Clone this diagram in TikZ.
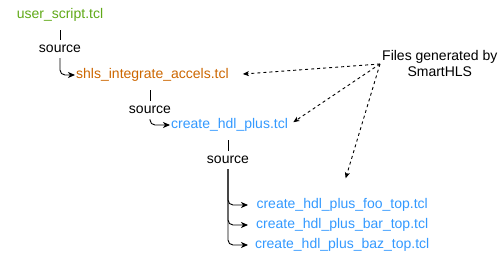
\documentclass[tikz,border=0pt]{standalone}
\usepackage{fontspec}
\setmainfont{Liberation Sans}
\usetikzlibrary{positioning, arrows.meta}

\definecolor{scriptgreen}{HTML}{60A917}
\definecolor{shlsorange}{HTML}{CC6600}
\definecolor{hdlblue}{HTML}{3399FF}

\begin{document}
\begin{tikzpicture}[
    x=1pt, y=-1pt,
    fnt/.style={font=\fontsize{14}{16}\selectfont},
    file/.style={fnt, minimum height=30pt, inner xsep=1pt, inner ysep=0pt},
    srclabel/.style={fnt, minimum height=18pt, inner sep=0pt},
    srcarrow/.style={-{Stealth[length=7pt, width=6pt, inset=2pt]}, line width=0.9pt, rounded corners=5pt},
    genarrow/.style={-{Stealth[length=6pt, width=5pt, inset=1.5pt]}, line width=0.9pt, dash pattern=on 3pt off 3pt}
]
\useasboundingbox (0,0) rectangle (501,261);

% Script files
\node[file, text=scriptgreen] (user) at (60,15) {user\_script.tcl};
\node[file, text=shlsorange, anchor=west] (shls) at (75,75) {shls\_integrate\_accels.tcl};
\node[file, text=hdlblue, anchor=west] (hdl) at (170,125) {create\_hdl\_plus.tcl};
\node[file, text=hdlblue, anchor=west, minimum width=188pt] (foo) at (248,205) {create\_hdl\_plus\_foo\_top.tcl};
\node[file, text=hdlblue, anchor=west, minimum width=188pt] (bar) at (248,225) {create\_hdl\_plus\_bar\_top.tcl};
\node[file, text=hdlblue, anchor=west, minimum width=188pt] (baz) at (248,245) {create\_hdl\_plus\_baz\_top.tcl};

% Source labels
\node[srclabel] (src1) at (60,49) {source};
\node[srclabel] (src2) at (150,110) {source};
\node[srclabel] (src3) at (228,160) {source};

% Source connectors
\draw[line width=0.9pt] (src1.north |- user.south) -- (src1.north);
\draw[srcarrow] (src1.south) |- (shls.west);
\draw[line width=0.9pt] (src2.north |- shls.south) -- (src2.north);
\draw[srcarrow] (src2.south) |- (hdl.west);
\draw[line width=0.9pt] (src3.north |- hdl.south) -- (src3.north);
\foreach \t in {foo,bar,baz}
    \draw[srcarrow] (src3.south) |- (\t.west);

% Generated files note
\node[fnt, align=center, anchor=west, inner sep=2pt] (gen) at (380,64) {Files generated by\\SmartHLS};
\draw[genarrow, shorten >=13pt] (gen.west) -- (shls.east);
\draw[genarrow, shorten >=5pt] (gen.west) -- (hdl.east);
\draw[genarrow, shorten >=12pt] (gen.west) -- (foo.north);

\end{tikzpicture}
\end{document}
